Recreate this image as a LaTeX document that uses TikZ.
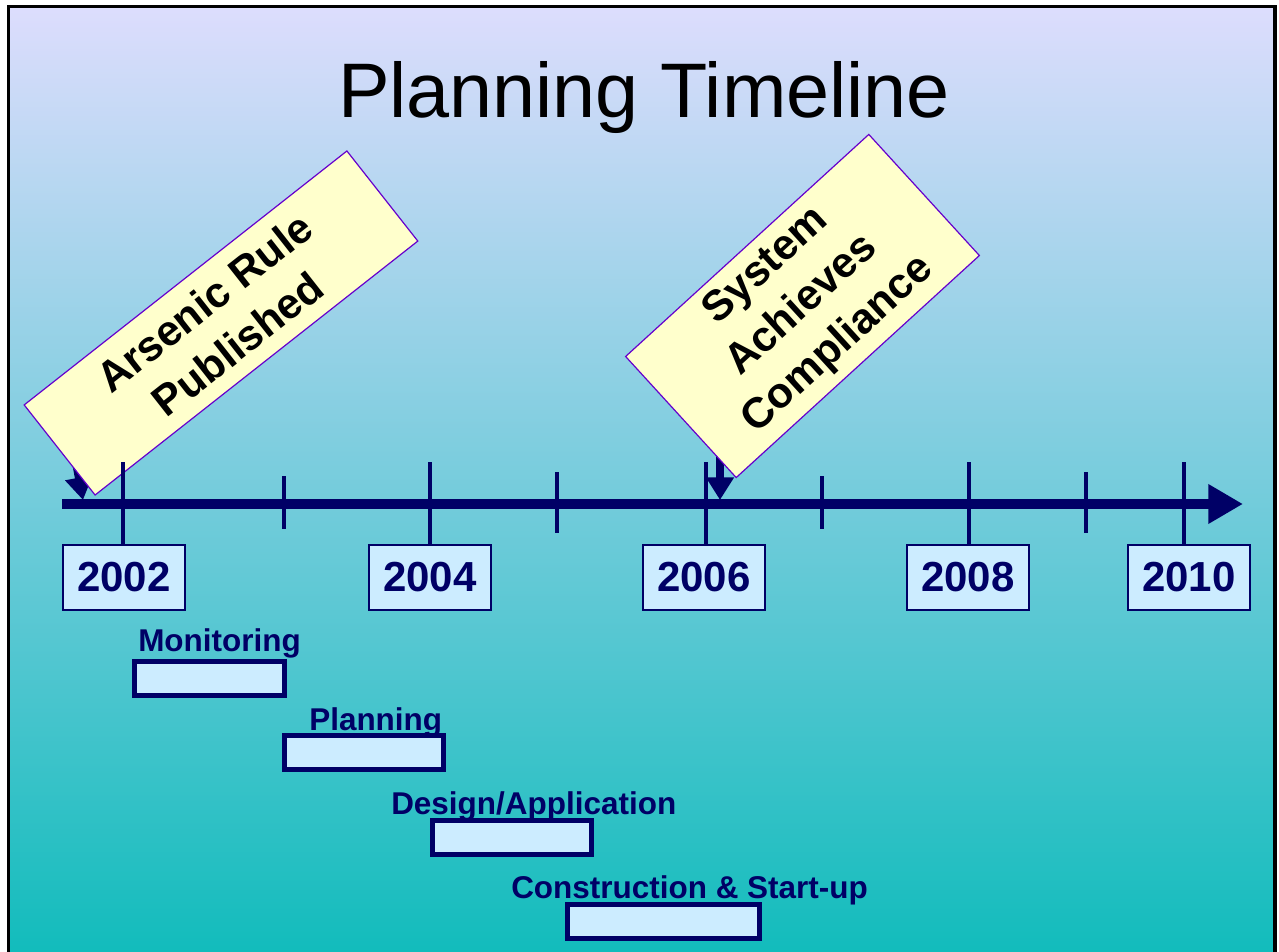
\documentclass[tikz,border=0pt]{standalone}
\usepackage{fontspec}
\setmainfont{Liberation Sans}
\usetikzlibrary{arrows.meta}
\definecolor{navy}{RGB}{0,0,102}
\definecolor{bgtop}{RGB}{221,221,253}
\definecolor{bgbot}{RGB}{18,188,188}
\definecolor{notefill}{RGB}{255,255,204}
\definecolor{noteline}{RGB}{102,0,204}
\definecolor{boxfill}{RGB}{204,236,255}
\tikzset{
  note/.style={draw=noteline, line width=0.9pt, fill=notefill, align=center,
    font=\bfseries\fontsize{32}{40}\selectfont, inner sep=0pt},
  yearbox/.style={draw=navy, line width=1.4pt, fill=boxfill, text=navy,
    font=\bfseries\fontsize{31.5}{34}\selectfont, minimum width=92pt,
    minimum height=49pt, inner sep=0pt},
  tickline/.style={draw=navy, line width=2.3pt},
  pointer/.style={draw=navy, line width=6pt, -{Triangle[length=17pt,width=20pt]}},
  glabel/.style={text=navy, font=\bfseries\fontsize{23.6}{26}\selectfont,
    anchor=base west, inner sep=0pt},
  bar/.style={draw=navy, line width=3.75pt, fill=boxfill, minimum height=25.5pt,
    inner sep=0pt}
}
\begin{document}
\begin{tikzpicture}[x=0.75pt,y=-0.75pt]
\useasboundingbox (0,0) rectangle (1279,952);
% background
\shade[top color=bgtop, bottom color=bgbot] (8,6) rectangle (1276,952);
\draw[black, line width=2.4pt] (8.5,952) -- (8.5,6.5) -- (1275,6.5) -- (1275,952);
% title
\node[anchor=base, font=\fontsize{58}{62}\selectfont, inner sep=0pt] (title) at (644,118) {Planning Timeline};
% axis
\coordinate (axL) at (62,504);
\coordinate (axR) at (1243,504);
\draw[navy, line width=7.5pt, -{Triangle[length=26pt,width=28pt]}] (axL) -- (axR);
% pointers (behind notes)
\coordinate (p1s) at (70,430);
\coordinate (p1e) at (83,500);
\draw[pointer] (p1s) -- (p1e);
\coordinate (p2s) at (720,420);
\coordinate (p2e) at (720,500);
\draw[pointer] (p2s) -- (p2e);
% notes
\node[note, rotate=38.2, minimum width=308pt, minimum height=86pt] (arsenic) at (221,323) {Arsenic Rule\\Published};
\node[note, rotate=42.4, minimum width=247pt, minimum height=123pt] (comply) at (802.5,306) {System\\Achieves\\Compliance};
% year boxes
\node[yearbox] (y2002) at (124,577.5) {2002};
\node[yearbox] (y2004) at (430,577.5) {2004};
\node[yearbox] (y2006) at (704,577.5) {2006};
\node[yearbox] (y2008) at (968,577.5) {2008};
\node[yearbox] (y2010) at (1189,577.5) {2010};
% major ticks
\foreach \x in {123,430,706,969,1184} {
  \draw[tickline] (\x,462) -- (\x,545);
}
% minor ticks
\draw[tickline] (284,476) -- (284,529);
\draw[tickline] (557,472) -- (557,533);
\draw[tickline] (822,476) -- (822,529);
\draw[tickline] (1086,472) -- (1086,533);
% gantt labels
\node[glabel] (lmon) at (138,651) {Monitoring};
\node[glabel] (lpla) at (309,730) {Planning};
\node[glabel] (ldes) at (391,814) {Design/Application};
\node[glabel] (lcon) at (511,898) {Construction \& Start-up};
% gantt bars
\node[bar, minimum width=112.5pt] (bmon) at (209.5,678) {};
\node[bar, minimum width=119pt] (bpla) at (364,752) {};
\node[bar, minimum width=119pt] (bdes) at (512,837) {};
\node[bar, minimum width=144pt] (bcon) at (663.5,921) {};
\end{tikzpicture}
\end{document}
